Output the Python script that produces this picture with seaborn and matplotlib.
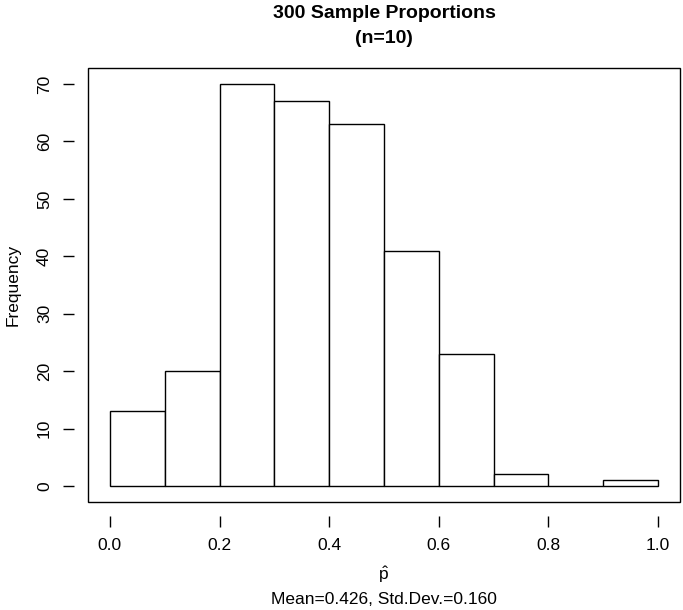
import numpy as np
import matplotlib
matplotlib.use("Agg")
import matplotlib.pyplot as plt
import seaborn as sns
from matplotlib.patches import Rectangle

# histogram of 300 sample proportions, bins of width 0.1
bin_edges = [0.0, 0.1, 0.2, 0.3, 0.4, 0.5, 0.6, 0.7, 0.8, 0.9, 1.0]
bin_mids = [0.05, 0.15, 0.25, 0.35, 0.45, 0.55, 0.65, 0.75, 0.85, 0.95]
counts = [13, 20, 70, 67, 63, 41, 23, 2, 0, 1]
x_ticks = [0.0, 0.2, 0.4, 0.6, 0.8, 1.0]
x_tick_labels = ["0.0", "0.2", "0.4", "0.6", "0.8", "1.0"]
y_ticks = [0, 10, 20, 30, 40, 50, 60, 70]

sns.set_style("white")
plt.rcParams['font.family'] = ['Liberation Sans', 'DejaVu Sans']
plt.rcParams['mathtext.fontset'] = 'custom'
plt.rcParams['mathtext.rm'] = 'Liberation Sans'
plt.rcParams['mathtext.it'] = 'Liberation Sans'
for key in ['text.color', 'axes.labelcolor', 'xtick.color', 'ytick.color']:
    plt.rcParams[key] = 'black'

fig = plt.figure(figsize=(6.83, 6.10), dpi=100)
ax = fig.add_axes([88/683, 108/610, 592/683, 434/610])

sns.histplot(x=bin_mids, weights=counts, bins=bin_edges, ax=ax,
             color="white", edgecolor="black", linewidth=1, alpha=1)

ax.set_xlim(-0.04, 1.04)
ax.set_ylim(-2.8, 72.8)

# R-style: ticks detached from the box
for side in ['left', 'bottom']:
    ax.spines[side].set_position(('outward', 10))
for s in ax.spines.values():
    s.set_visible(False)
ax.add_patch(Rectangle((0, 0), 1, 1, transform=ax.transAxes, fill=False,
                       edgecolor="black", linewidth=1, clip_on=False))

ax.set_xticks(x_ticks)
ax.set_xticklabels(x_tick_labels, fontsize=12.5)
ax.set_yticks(y_ticks)
ax.set_yticklabels([str(v) for v in y_ticks], fontsize=12.5, rotation=90, va='center')
ax.tick_params(axis='both', length=8, width=1, color='black', direction='out',
               bottom=True, left=True, pad=8)

ax.set_xlabel("")
ax.set_ylabel("Frequency", fontsize=12.5, labelpad=12)
fig.text(384/683, 1 - 575/610, r"$\hat{\mathrm{p}}$", ha='center', va='center', fontsize=12.5)
fig.text(384/683, 1 - 600/610, "Mean=0.426, Std.Dev.=0.160", ha='center', va='center', fontsize=12.5)
fig.text(384/683, 1 - 26/610, "300 Sample Proportions\n(n=10)", ha='center', va='center',
         fontsize=14, fontweight='bold', linespacing=1.6)

fig.savefig("out.png", dpi=100)
